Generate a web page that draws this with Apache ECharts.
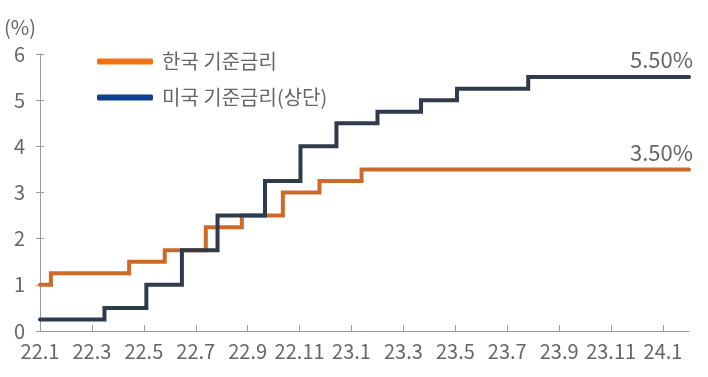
<!DOCTYPE html>
<html>
<head>
<meta charset="utf-8">
<script src="https://cdn.jsdelivr.net/npm/echarts@6/dist/echarts.min.js"></script>
<style>
html,body{margin:0;padding:0;background:#fff;}
#c{width:708px;height:377px;}
</style>
</head>
<body>
<div id="c"></div>
<script>
// Month categories (x axis), 22.1 .. 24.2
const months = ['22.1','22.2','22.3','22.4','22.5','22.6','22.7','22.8','22.9','22.10','22.11','22.12',
                '23.1','23.2','23.3','23.4','23.5','23.6','23.7','23.8','23.9','23.10','23.11','23.12',
                '24.1','24.2'];
// Korea base rate decisions
const korDates = ['2022-01-01','2022-01-14','2022-04-14','2022-05-26','2022-07-13','2022-08-25','2022-10-12','2022-11-24','2023-01-13'];
const korRates = [1.00, 1.25, 1.50, 1.75, 2.25, 2.50, 3.00, 3.25, 3.50];
// US federal funds target (upper bound) decisions
const usDates = ['2022-01-01','2022-03-16','2022-05-04','2022-06-15','2022-07-27','2022-09-21','2022-11-02','2022-12-14','2023-02-01','2023-03-22','2023-05-03','2023-07-26'];
const usRates = [0.25, 0.50, 1.00, 1.75, 2.50, 3.25, 4.00, 4.50, 4.75, 5.00, 5.25, 5.50];
const endDate = '2024-02-01';
const seriesNames = ['한국 기준금리', '미국 기준금리(상단)'];
const yTicks = [0,1,2,3,4,5,6];

const FONT = 'Noto Sans CJK KR';
const TXT = '#666666';

function monthOffset(s){
  const [y,m,d] = s.split('-').map(Number);
  const dim = new Date(y, m, 0).getDate();
  return (y-2022)*12 + (m-1) + (d-1)/dim;
}
const endX = monthOffset(endDate);
function buildSteps(dates, rates){
  const pts = dates.map((d,i)=>[monthOffset(d), rates[i]]);
  pts.push([endX, rates[rates.length-1]]);
  return pts;
}
function endMark(rates){
  const last = rates[rates.length-1];
  return {
    symbol:'circle', symbolSize:0, silent:true,
    label:{show:true, position:'top', align:'right', distance:6, offset:[4,0],
           fontFamily:FONT, fontSize:22, color:TXT, formatter: last.toFixed(2)+'%'},
    data:[{coord:[endX, last]}]
  };
}

const chart = echarts.init(document.getElementById('c'), null, {renderer:'canvas'});
chart.setOption({
  backgroundColor:'#ffffff',
  animation:false,
  textStyle:{fontFamily:FONT},
  grid:{left:40, right:19, top:54, bottom:46, containLabel:false},
  legend:{
    orient:'vertical', left:92, top:46, itemGap:15,
    itemWidth:56, itemHeight:6, icon:'roundRect',
    textStyle:{fontFamily:FONT, fontSize:20, color:TXT, lineHeight:21, padding:[0,0,0,4]},
    data:[
      {name:seriesNames[0], itemStyle:{color:'#f07214'}},
      {name:seriesNames[1], itemStyle:{color:'#0d3f93'}}
    ]
  },
  xAxis:[
    {
      type:'category', data:months, boundaryGap:false,
      axisLine:{show:true, lineStyle:{color:'#9a9a9a', width:1}},
      axisTick:{show:true, inside:true, length:6, interval:1, lineStyle:{color:'#9a9a9a'}},
      axisLabel:{interval:1, fontFamily:FONT, fontSize:20, color:TXT, margin:10},
      splitLine:{show:false}
    },
    {
      type:'value', min:0, max:endX, show:false, splitLine:{show:false}
    }
  ],
  yAxis:[
    {
      type:'value', min:yTicks[0], max:yTicks[yTicks.length-1], interval:1,
      name:'(%)', nameLocation:'end', nameGap:17,
      nameTextStyle:{fontFamily:FONT, fontSize:20, color:TXT, align:'right', padding:[0,4,0,0]},
      axisLine:{show:true, lineStyle:{color:'#9a9a9a', width:1}},
      axisTick:{show:true, length:4, lineStyle:{color:'#9a9a9a'}},
      axisLabel:{fontFamily:FONT, fontSize:20, color:TXT, margin:15},
      splitLine:{show:false}
    },
    {
      type:'value', min:yTicks[0], max:yTicks[yTicks.length-1], interval:1, position:'left',
      axisLine:{show:false},
      axisTick:{show:true, inside:true, length:4, lineStyle:{color:'#9a9a9a'}},
      axisLabel:{show:false}, splitLine:{show:false}
    }
  ],
  series:[
    {
      name:seriesNames[0], type:'line', step:'end', xAxisIndex:1, yAxisIndex:0,
      showSymbol:false, symbol:'none',
      lineStyle:{color:'#cd6a2a', width:4, cap:'round', join:'miter'},
      itemStyle:{color:'#cd6a2a'},
      data:buildSteps(korDates, korRates),
      markPoint:endMark(korRates),
      z:2
    },
    {
      name:seriesNames[1], type:'line', step:'end', xAxisIndex:1, yAxisIndex:0,
      showSymbol:false, symbol:'none',
      lineStyle:{color:'#2f3a4a', width:4, cap:'round', join:'miter'},
      itemStyle:{color:'#2f3a4a'},
      data:buildSteps(usDates, usRates),
      markPoint:endMark(usRates),
      z:3
    }
  ]
});
</script>
</body>
</html>
